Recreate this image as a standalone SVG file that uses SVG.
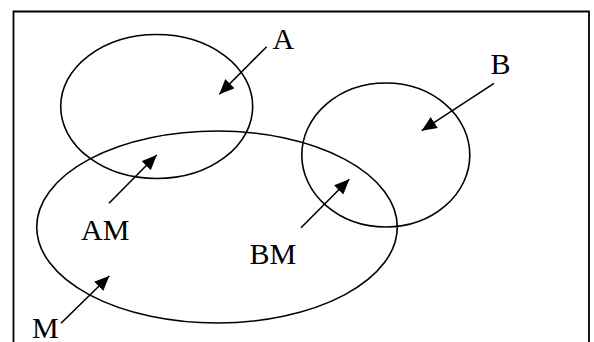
<svg xmlns="http://www.w3.org/2000/svg" width="594" height="342" viewBox="0 0 594 342">
<defs>
<marker id="ah" viewBox="0 0 15 13" refX="15" refY="6.5" markerWidth="15" markerHeight="13" markerUnits="userSpaceOnUse" orient="auto">
<path d="M0,0 L15,6.5 L0,13 Z" fill="#000"/>
</marker>
</defs>
<style>
.set{fill:none;stroke:#000;stroke-width:1.6}
.lbl{font-family:"Liberation Serif","Times New Roman",serif;font-size:30px;fill:#000}
.arr{stroke:#000;stroke-width:1.6;fill:none;marker-end:url(#ah)}
</style>
<rect width="594" height="342" fill="#fff"/>
<path d="M13.5,350 L13.5,11.5 L589,11.5 L589,350" fill="none" stroke="#000" stroke-width="1.8"/>
<g id="setA"><ellipse class="set" cx="156.7" cy="106.5" rx="96" ry="72"/><text class="lbl" x="272.5" y="49.3">A</text></g>
<g id="setB"><ellipse class="set" cx="385.8" cy="155" rx="84" ry="72"/><text class="lbl" x="490.5" y="74.3">B</text></g>
<g id="setM"><ellipse class="set" cx="217" cy="227" rx="180.3" ry="96"/><text class="lbl" x="32" y="337.5">M</text></g>
<g id="labelAM"><text class="lbl" x="81" y="240">AM</text></g>
<g id="labelBM"><text class="lbl" x="249.5" y="264.3">BM</text></g>
<g id="connectors">
<line class="arr" x1="266.7" y1="46.7" x2="219.3" y2="94.3"/>
<line class="arr" x1="494" y1="83.3" x2="421.7" y2="130.7"/>
<line class="arr" x1="109" y1="203.3" x2="156.7" y2="155"/>
<line class="arr" x1="301" y1="227.7" x2="349.3" y2="179.3"/>
<line class="arr" x1="61" y1="323.3" x2="109.3" y2="276"/>
</g>
</svg>
